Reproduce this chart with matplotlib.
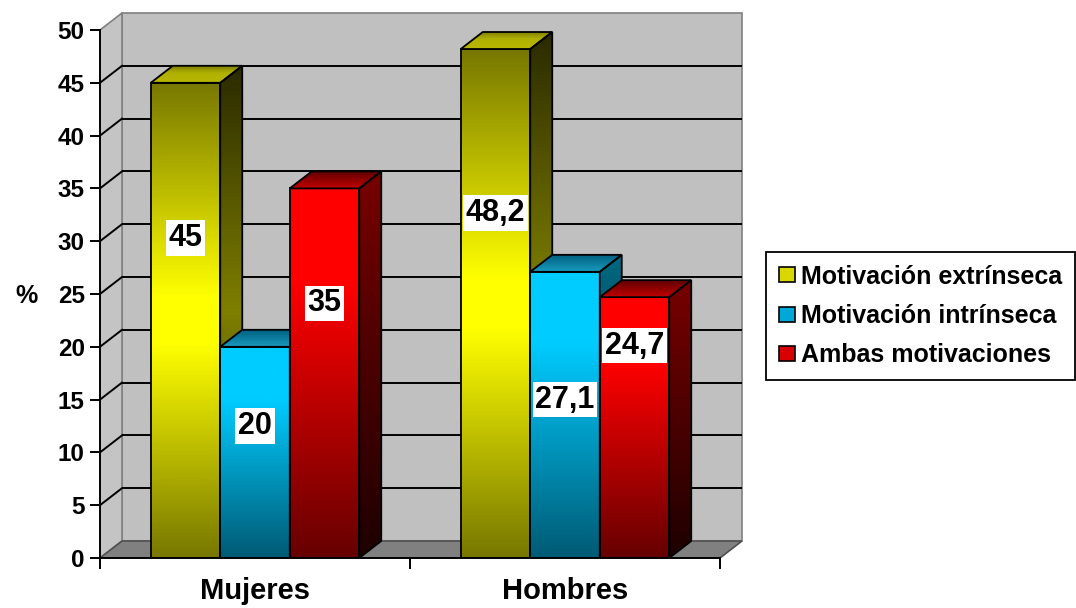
import numpy as np
import matplotlib
matplotlib.use("Agg")
import matplotlib.pyplot as plt
from matplotlib.patches import Polygon, Rectangle, Patch
from matplotlib.colors import LinearSegmentedColormap

# data
categories = ["Mujeres", "Hombres"]
series_names = ["Motivación extrínseca", "Motivación intrínseca", "Ambas motivaciones"]
extrinseca = [45, 48.2]
intrinseca = [20, 27.1]
ambas = [35, 24.7]
values = [extrinseca, intrinseca, ambas]

# layout (pixel scale of the reference: 310 px per category, 10.56 px per unit)
PX_X = 310.0
PX_Y = 10.56
DX = 22 / PX_X          # depth offset of the fake 3d
DY = 17 / PX_Y
W = 69.5 / PX_X         # bar width
# height of the value label, as a share of the bar (Excel puts them oddly)
label_frac = [[0.673, 0.678], [0.625, 0.553], [0.689, 0.814]]

# gradient stops bottom -> top for front, side and top faces
front_cols = [
    [(0, "#777700"), (0.45, "#FFFF00"), (0.55, "#FFFF00"), (1, "#777700")],
    [(0, "#005A74"), (0.75, "#00CCFF"), (1, "#00CCFF")],
    [(0, "#660000"), (0.75, "#FF0000"), (1, "#FF0000")],
]
side_cols = [
    [(0, "#2A2A00"), (0.5, "#7F7F00"), (1, "#2A2A00")],
    [(0, "#002838"), (1, "#006880")],
    [(0, "#1E0000"), (1, "#780000")],
]
top_cols = [
    [(0, "#B8B800"), (0.6, "#B0B000"), (1, "#808000")],
    [(0, "#1A9CC0"), (1, "#006080")],
    [(0, "#C00000"), (1, "#600000")],
]
legend_cols = ["#D8D800", "#00A8D8", "#D80000"]

plt.rcParams["font.family"] = ["Liberation Sans", "DejaVu Sans"]
plt.rcParams["font.weight"] = "bold"

fig = plt.figure(figsize=(10.76, 6.08), dpi=100)
ax = fig.add_axes([100 / 1076, 50 / 608, 650 / 1076, 549 / 608])
XMAX = 650 / PX_X
YMAX = 549 / PX_Y


def shade(poly, stops, z):
    # gradient image clipped to a face of the bar
    poly.set_facecolor("none")
    poly.set_edgecolor("black")
    poly.set_linewidth(1.3)
    poly.set_zorder(z + 0.5)
    if isinstance(poly, Rectangle):
        xy = np.array([[poly.get_x(), poly.get_y()],
                       [poly.get_x() + poly.get_width(), poly.get_y() + poly.get_height()]])
    else:
        xy = np.asarray(poly.get_xy())
    cmap = LinearSegmentedColormap.from_list("g", stops)
    grad = np.linspace(0, 1, 256).reshape(-1, 1)
    im = ax.imshow(grad, cmap=cmap, origin="lower", aspect="auto",
                   interpolation="bilinear", zorder=z,
                   extent=[xy[:, 0].min(), xy[:, 0].max(), xy[:, 1].min(), xy[:, 1].max()])
    im.set_clip_path(poly)


def face(verts):
    p = Polygon(verts, closed=True)
    ax.add_patch(p)
    return p


# walls and floor
ax.add_patch(Rectangle((DX, DY), 2, 50, facecolor="#C0C0C0", edgecolor="#808080", lw=1.2, zorder=1))
ax.add_patch(Polygon([(0, 0), (DX, DY), (DX, 50 + DY), (0, 50)], closed=True,
                     facecolor="#C4C4C4", edgecolor="#808080", lw=1.2, zorder=1))
ax.add_patch(Polygon([(0, 0), (2, 0), (2 + DX, DY), (DX, DY)], closed=True,
                     facecolor="#808080", edgecolor="#505050", lw=1.2, zorder=1.2))

yticks = np.arange(0, 51, 5)
grid = yticks[1:-1]
ax.hlines(grid + DY, DX, 2 + DX, color="black", lw=1.4, zorder=2)
for v in grid:
    ax.plot([0, DX], [v, v + DY], color="black", lw=1.4, zorder=2)

# bars, drawn left to right so the faces stack like the reference
cat_x = np.arange(len(categories)) + 0.5
z = 10
for ci in range(len(categories)):
    for si in range(len(series_names)):
        v = values[si][ci]
        x0 = cat_x[ci] - 1.5 * W + si * W
        x1 = x0 + W
        rect = ax.bar([x0], [v], width=W, align="edge")[0]
        shade(rect, front_cols[si], z)
        shade(face([(x1, 0), (x1 + DX, DY), (x1 + DX, v + DY), (x1, v)]), side_cols[si], z + 1)
        shade(face([(x0, v), (x1, v), (x1 + DX, v + DY), (x0 + DX, v + DY)]), top_cols[si], z + 1)
        txt = f"{v:g}".replace(".", ",")
        ax.text(x0 + W / 2, v * label_frac[si][ci], txt, ha="center", va="center",
                fontsize=22, fontweight="bold", zorder=200,
                bbox=dict(facecolor="white", edgecolor="none", pad=2.0))
        z += 3

ax.set_xlim(0, XMAX)
ax.set_ylim(0, YMAX)

# axes
for s in ["top", "right"]:
    ax.spines[s].set_visible(False)
ax.spines["left"].set_bounds(0, 50)
ax.spines["bottom"].set_bounds(0, 2)
for s in ["left", "bottom"]:
    ax.spines[s].set_linewidth(1.4)
    ax.spines[s].set_zorder(300)
ax.set_yticks(yticks)
ax.tick_params(axis="y", length=7, width=1.4, pad=4, labelsize=17.5)
ax.set_xticks([0, 1, 2])
ax.set_xticklabels([])
ax.tick_params(axis="x", which="major", length=8, width=1.4)
ax.set_xticks(cat_x, minor=True)
ax.set_xticklabels(categories, minor=True, fontsize=21, fontweight="bold")
ax.tick_params(axis="x", which="minor", length=0, pad=14)
for lab in ax.get_yticklabels():
    lab.set_fontweight("bold")

fig.text(27 / 1076, 1 - 296 / 608, "%", fontsize=18, fontweight="bold", ha="center", va="center")

handles = [Patch(facecolor=c, edgecolor="black", lw=1.2) for c in legend_cols]
leg = fig.legend(handles, series_names, loc="upper left",
                 bbox_to_anchor=(766 / 1076, 1 - 252 / 608), bbox_transform=fig.transFigure,
                 prop={"size": 18, "weight": "bold"}, frameon=True, fancybox=False,
                 framealpha=1, edgecolor="black", borderpad=0.5, borderaxespad=0,
                 handlelength=0.65, handleheight=0.55, handletextpad=0.25, labelspacing=0.62)
leg.get_frame().set_linewidth(1.3)

fig.savefig("out.png", dpi=100)
